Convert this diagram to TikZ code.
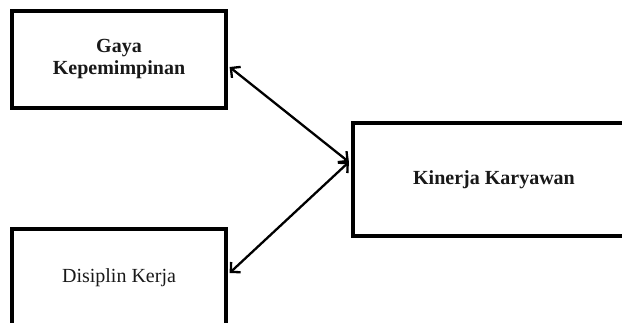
\documentclass[tikz,border=0pt]{standalone}
\usepackage{fontspec}
\setmainfont{Liberation Serif}
\usetikzlibrary{arrows.meta,calc}
\begin{document}
\begin{tikzpicture}[x=1pt,y=-1pt,
  box/.style={draw=black, line width=3.2pt, rectangle, inner sep=0pt, align=center,
    font=\fontsize{20}{22}\selectfont, text=black!90},
  bold/.style={font=\bfseries\fontsize{20}{22}\selectfont},
  link/.style={line width=2.3pt, {Straight Barb[length=7pt,width=14pt,line width=2.3pt]}-{Straight Barb[length=7pt,width=14pt,line width=2.3pt]}}]
  \useasboundingbox (0,0) rectangle (622,322);
  \clip (0,0) rectangle (622,322);
  \fill[white] (0,0) rectangle (622,322);
  % variable boxes
  \node[box, bold, minimum width=214pt, minimum height=97pt] (gaya) at (119,59.5) {Gaya\\Kepemimpinan};
  \node[box, minimum width=214pt, minimum height=97pt] (disiplin) at (119,277.5) {Disiplin Kerja};
  \node[box, bold, minimum width=282pt, minimum height=113pt] (kinerja) at (494,179.5) {Kinerja Karyawan};
  % connection points on the box edges
  \coordinate (g) at ($(gaya.east)+(2,7.5)$);
  \coordinate (d) at ($(disiplin.east)+(2,-4.5)$);
  \coordinate (k) at ($(kinerja.west)+(-2.5,-17.5)$);
  % two-way relations
  \draw[link] (g) -- (k);
  \draw[link] (d) -- (k);
\end{tikzpicture}
\end{document}
